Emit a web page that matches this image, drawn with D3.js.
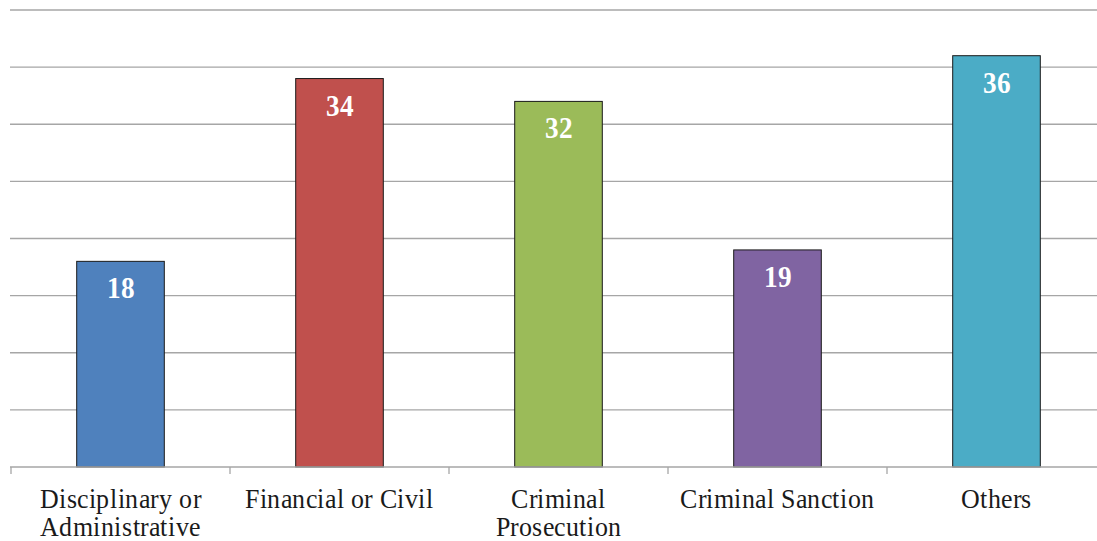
<!DOCTYPE html>
<html><head><meta charset="utf-8">
<script src="https://cdn.jsdelivr.net/npm/d3@7"></script>
<style>
@font-face{font-family:"ChartSerif";src:local("Liberation Serif"),local("LiberationSerif"),local("LiberationSerif-Regular"),local("Times New Roman");font-weight:400;}
@font-face{font-family:"ChartSerif";src:local("Liberation Serif Bold"),local("LiberationSerif-Bold"),local("Times New Roman Bold");font-weight:700;}
body{margin:0;background:#fff}
svg{display:block}
svg text{font-family:"ChartSerif","Liberation Serif","Noto Serif","DejaVu Serif",serif}
</style>
</head><body>
<svg id="c" width="1097" height="541"></svg>
<script>
const categories = [["Disciplinary or","Administrative"],["Financial or Civil"],["Criminal","Prosecution"],["Criminal Sanction"],["Others"]];
const values = [18, 34, 32, 19, 36];
const colors = ["#4F81BD","#C0504D","#9BBB59","#8064A2","#4BACC6"];
const yTicks = [0,5,10,15,20,25,30,35,40];

(function(){
const svg = d3.select("#c");
const left = 11, bandW = 219, plotTop = 10, bottom = 467;
const x = d3.scaleBand().domain(d3.range(values.length)).range([left, left + bandW*values.length]).paddingInner(0.6).paddingOuter(0.3);
const y = d3.scaleLinear().domain([0,40]).range([bottom, plotTop]);

svg.append("g").selectAll("line").data(yTicks.filter(d=>d>0)).join("line")
  .attr("x1", left-1).attr("x2", 1097)
  .attr("y1", d=>y(d)).attr("y2", d=>y(d))
  .attr("stroke", "#A6A6A6").attr("stroke-width", 1.3);

svg.append("g").selectAll("rect").data(values).join("rect")
  .attr("x", (d,i)=>x(i)).attr("width", x.bandwidth())
  .attr("y", d=>y(d)).attr("height", d=>bottom - y(d))
  .attr("fill", (d,i)=>colors[i]).attr("stroke", "#1a1a1a").attr("stroke-width", 1);

const xb = d3.scaleLinear().domain([0, values.length]).range([left, left + bandW*values.length]);
svg.append("line").attr("x1", left-1).attr("x2", 1097).attr("y1", bottom).attr("y2", bottom)
  .attr("stroke", "#A6A6A6").attr("stroke-width", 1.3);
svg.append("g").selectAll("line").data(d3.range(values.length+1)).join("line")
  .attr("x1", d=>xb(d)).attr("x2", d=>xb(d)).attr("y1", bottom).attr("y2", bottom+7)
  .attr("stroke", "#A6A6A6").attr("stroke-width", 1.3);

svg.append("g").selectAll("text").data(values).join("text")
  .attr("transform", (d,i)=>`translate(${x(i)+x.bandwidth()/2},${y(d)+37}) scale(1,1.1)`)
  .attr("text-anchor","middle").attr("fill","#fff")
  .attr("font-weight","bold").attr("font-size",27)
  .text(d=>d);

const rows = [];
categories.forEach((lines,i)=>lines.forEach((t,j)=>rows.push({i,j,t})));
svg.append("g").selectAll("text").data(rows).join("text")
  .attr("transform", d=>`translate(${x(d.i)+x.bandwidth()/2},${508+d.j*28}) scale(1,1.08)`)
  .attr("text-anchor","middle").attr("fill","#1a1a1a")
  .attr("font-size",26)
  .text(d=>d.t);
})();
</script>
</body></html>
